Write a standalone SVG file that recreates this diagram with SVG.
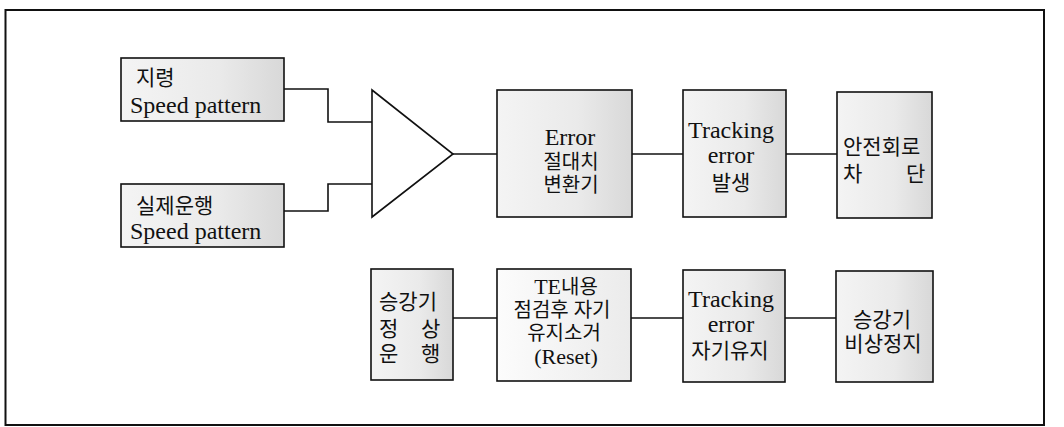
<svg xmlns="http://www.w3.org/2000/svg" width="1064" height="427" viewBox="0 0 1064 427">
<defs>
<linearGradient id="g" x1="0" y1="0" x2="1" y2="0">
<stop offset="0" stop-color="#f4f4f4"/>
<stop offset="0.6" stop-color="#eaeaea"/>
<stop offset="1" stop-color="#d8d8d8"/>
</linearGradient>
<linearGradient id="gl" x1="0" y1="0" x2="1" y2="0">
<stop offset="0" stop-color="#fcfcfc"/>
<stop offset="1" stop-color="#ebebeb"/>
</linearGradient>
<style>
.box{fill:url(#g);stroke:#111;stroke-width:1.6}
.lbox{fill:url(#gl);stroke:#111;stroke-width:1.6}
.ln{fill:none;stroke:#111;stroke-width:1.6}
.t{font-family:'Liberation Serif','Noto Sans CJK KR',serif;font-size:24px;fill:#111}
.k{font-family:'Liberation Serif','Noto Sans CJK KR',serif;font-size:21px;fill:#111}
.s{font-size:22px}
.ks{font-size:20px}
.m{text-anchor:middle}
</style>
</defs>
<rect x="0" y="0" width="1064" height="427" fill="#fff"/>
<rect x="5.5" y="10" width="1038.5" height="415" fill="none" stroke="#111" stroke-width="2"/>

<g id="connectors">
<polyline class="ln" points="284,89 328,89 328,122 372,122"/>
<polyline class="ln" points="284,211 328,211 328,184 372,184"/>
<line class="ln" x1="453" y1="154" x2="497" y2="154"/>
<line class="ln" x1="632" y1="154" x2="683" y2="154"/>
<line class="ln" x1="786" y1="154" x2="837" y2="154"/>
<line class="ln" x1="453" y1="318" x2="497" y2="318"/>
<line class="ln" x1="631" y1="318" x2="683" y2="318"/>
<line class="ln" x1="785" y1="318" x2="836" y2="318"/>
</g>

<g id="n-command">
<rect class="box" x="121" y="58" width="163" height="63"/>
<text class="k" x="136" y="85">지령</text>
<text class="t" x="130" y="113">Speed pattern</text>
</g>

<g id="n-actual">
<rect class="box" x="121" y="184" width="163" height="63"/>
<text class="k" x="136" y="213">실제운행</text>
<text class="t" x="130" y="239">Speed pattern</text>
</g>

<g id="n-comparator">
<polygon points="372,90 453,154 372,217" fill="#fff" stroke="#111" stroke-width="1.6"/>
</g>

<g id="n-abs">
<rect class="box" x="497" y="90" width="135" height="127"/>
<text class="t m" x="570" y="145">Error</text>
<text class="k ks m" x="571" y="169">절대치</text>
<text class="k ks m" x="571" y="192">변환기</text>
</g>

<g id="n-te">
<rect class="box" x="683" y="90" width="103" height="127"/>
<text class="t m" x="731" y="138">Tracking</text>
<text class="t m" x="731" y="163">error</text>
<text class="k m" x="731" y="190">발생</text>
</g>

<g id="n-cut">
<rect class="box" x="837" y="92" width="95" height="126"/>
<text class="k" x="843" y="154">안전회로</text>
<text class="k" x="843" y="181">차</text>
<text class="k" x="906" y="181">단</text>
</g>

<g id="n-normal">
<rect class="box" x="371" y="269" width="82" height="111"/>
<text class="k" x="379" y="309">승강기</text>
<text class="k" x="379" y="336">정</text>
<text class="k" x="421" y="336">상</text>
<text class="k" x="379" y="361">운</text>
<text class="k" x="421" y="361">행</text>
</g>

<g id="n-reset">
<rect class="lbox" x="497" y="269" width="134" height="112"/>
<text class="m" x="566" y="294"><tspan class="t s">TE</tspan><tspan class="k ks">내용</tspan></text>
<text class="k ks m" x="562" y="317">점검후 자기</text>
<text class="k ks m" x="564" y="340">유지소거</text>
<text class="t s m" x="566" y="364">(Reset)</text>
</g>

<g id="n-hold">
<rect class="box" x="683" y="270" width="102" height="112"/>
<text class="t m" x="731" y="307">Tracking</text>
<text class="t m" x="731" y="332">error</text>
<text class="k m" x="730" y="358">자기유지</text>
</g>

<g id="n-stop">
<rect class="box" x="836" y="271" width="97" height="111"/>
<text class="k m" x="882" y="327">승강기</text>
<text class="k m" x="883" y="351">비상정지</text>
</g>
</svg>
